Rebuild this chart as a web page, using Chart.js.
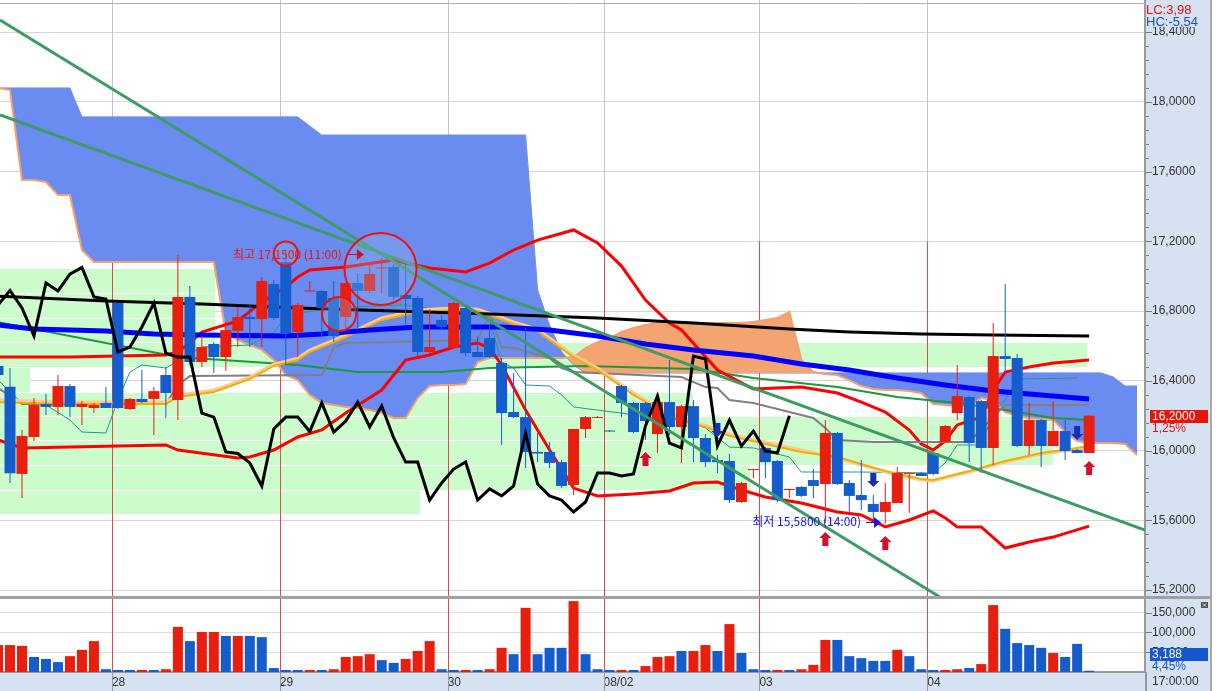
<!DOCTYPE html>
<html>
<head>
<meta charset="utf-8">
<script src="https://cdn.jsdelivr.net/npm/chart.js@4.4.0/dist/chart.umd.min.js"></script>
<style>
  html, body { margin: 0; padding: 0; background: #fff; }
  #wrap { position: relative; width: 1216px; height: 691px; overflow: hidden; }
  #price { position: absolute; left: 0; top: 0; }
  #vol { position: absolute; left: 0; top: 598px; }
</style>
</head>
<body>
<div id="wrap">
  <canvas id="price" width="1216" height="598"></canvas>
  <canvas id="vol" width="1216" height="93"></canvas>
</div>
<script>
// hourly bars, bar -1 is the one cut at the left edge
const firstBar = -1;
const dayStarts = [8.5, 22.5, 36.5, 49.5, 62.5, 76.5];
const dayLabels = ['28', '29', '30', '08/02', '03', '04'];
const endTimeLabel = '17:00:00';

const opens = [
  16.485, 16.366, 15.866, 16.078, 16.267, 16.250, 16.370, 16.250, 16.244, 16.273,
  16.846, 16.238, 16.296, 16.296, 16.433, 16.290, 16.881, 16.508, 16.611, 16.536,
  16.686, 16.766, 16.754, 16.955, 17.081, 16.680, 16.912, 16.915, 16.875, 16.766,
  16.961, 16.915, 17.044, 17.053, 16.892, 16.875, 16.565, 16.749, 16.588, 16.818,
  16.565, 16.645, 16.502, 16.221, 16.192, 15.992, 15.992, 15.934, 15.803, 16.124,
  16.187, 16.115, 16.370, 16.273, 16.273, 16.095, 16.278, 16.135, 16.255, 16.072,
  15.946, 15.940, 15.705, 15.888, 16.015, 15.940, 15.774, 15.791, 15.831, 15.808,
  16.101, 15.814, 15.745, 15.694, 15.648, 15.699, 15.866, 15.871, 15.986, 16.049,
  16.215, 16.307, 16.284, 16.015, 16.542, 16.531, 16.026, 16.175, 16.026, 16.112,
  16.003, 15.986
];
const highs = [
  16.502, 16.473, 16.118, 16.301, 16.324, 16.433, 16.382, 16.284, 16.273, 16.364,
  16.846, 16.301, 16.462, 16.364, 16.479, 17.121, 16.944, 16.657, 16.622, 16.737,
  16.823, 16.840, 16.995, 16.978, 17.150, 16.846, 16.972, 16.921, 16.972, 16.961,
  17.018, 17.075, 17.104, 17.070, 17.081, 16.886, 16.812, 16.777, 16.852, 16.829,
  16.651, 16.720, 16.531, 16.445, 16.703, 16.101, 16.049, 15.946, 16.124, 16.198,
  16.198, 16.118, 16.376, 16.278, 16.278, 16.319, 16.519, 16.261, 16.290, 16.095,
  15.975, 15.980, 15.820, 15.894, 16.020, 15.946, 15.780, 15.797, 15.894, 16.175,
  16.106, 15.831, 15.946, 15.745, 15.814, 15.906, 15.871, 15.877, 15.992, 16.147,
  16.491, 16.313, 16.290, 16.731, 16.955, 16.554, 16.273, 16.181, 16.284, 16.175,
  16.009, 16.204
];
const lows = [
  16.416, 15.814, 15.728, 16.055, 16.204, 16.204, 16.192, 16.147, 16.215, 16.244,
  16.238, 16.232, 16.273, 16.089, 16.187, 16.175, 16.491, 16.479, 16.445, 16.456,
  16.594, 16.594, 16.594, 16.749, 16.491, 16.536, 16.909, 16.651, 16.622, 16.691,
  16.703, 16.903, 16.903, 16.863, 16.720, 16.542, 16.559, 16.691, 16.582, 16.542,
  16.536, 16.531, 16.032, 16.187, 15.900, 15.934, 15.900, 15.785, 15.745, 16.072,
  16.187, 16.106, 16.192, 16.101, 16.061, 15.986, 16.089, 15.929, 15.934, 15.906,
  15.871, 15.699, 15.699, 15.843, 15.843, 15.705, 15.728, 15.734, 15.728, 15.585,
  15.803, 15.642, 15.659, 15.602, 15.580, 15.699, 15.642, 15.854, 15.860, 16.043,
  16.175, 15.934, 15.871, 15.917, 16.445, 16.020, 15.975, 15.906, 16.026, 15.946,
  15.986, 15.986
];
const closes = [
  16.433, 15.870, 16.084, 16.261, 16.250, 16.370, 16.250, 16.267, 16.261, 16.244,
  16.244, 16.296, 16.278, 16.341, 16.330, 16.881, 16.508, 16.594, 16.536, 16.691,
  16.766, 16.754, 16.972, 16.760, 16.674, 16.835, 16.918, 16.818, 16.657, 16.961,
  16.915, 17.012, 17.050, 16.881, 16.869, 16.565, 16.594, 16.709, 16.846, 16.559,
  16.536, 16.536, 16.215, 16.192, 15.992, 15.983, 15.929, 15.797, 16.124, 16.192,
  16.192, 16.109, 16.273, 16.106, 16.169, 16.278, 16.135, 16.255, 16.072, 15.934,
  15.934, 15.716, 15.814, 15.894, 15.934, 15.716, 15.780, 15.740, 15.797, 16.101,
  15.808, 15.740, 15.716, 15.648, 15.705, 15.871, 15.871, 15.854, 15.866, 16.141,
  16.313, 16.043, 16.015, 16.542, 16.525, 16.026, 16.175, 16.026, 16.112, 15.997,
  15.986, 16.200
];
const volumes = [
  68000, 68000, 66000, 38000, 33000, 25000, 40000, 56000, 78000, 7000,
  5000, 5000, 5000, 5000, 7000, 114000, 78000, 101000, 101000, 91000,
  91000, 91000, 88000, 10000, 5000, 5000, 5000, 5000, 7000, 38000,
  40000, 45000, 30000, 23000, 33000, 53000, 78000, 7000, 5000, 5000,
  5000, 7000, 61000, 45000, 162000, 45000, 61000, 61000, 179000, 45000,
  7000, 5000, 5000, 5000, 15000, 38000, 40000, 53000, 53000, 68000,
  53000, 121000, 48000, 7000, 5000, 5000, 5000, 7000, 18000, 81000,
  81000, 40000, 35000, 28000, 28000, 56000, 40000, 7000, 5000, 5000,
  7000, 10000, 20000, 169000, 109000, 73000, 68000, 61000, 48000, 38000,
  71000, 3188
];
// 1 = volume drawn red, 0 = blue
const volUp = [
  1, 1, 1, 0, 0, 0, 1, 1, 1, 0,
  0, 0, 1, 0, 1, 1, 0, 1, 1, 0,
  1, 0, 0, 0, 0, 0, 1, 0, 1, 1,
  1, 1, 0, 0, 1, 1, 1, 0, 0, 1,
  0, 1, 1, 0, 1, 0, 0, 0, 1, 0,
  0, 0, 1, 0, 1, 1, 1, 0, 1, 1,
  0, 1, 0, 0, 0, 1, 0, 1, 1, 1,
  0, 0, 0, 0, 0, 1, 0, 0, 0, 1,
  1, 0, 1, 1, 0, 0, 0, 0, 1, 0,
  0, 0
];
const lastChangePct = 1.25;
const volChangePct = 4.45;

// ichimoku leading spans, bars -1 .. 94
const spanA = [
  18.079, 18.067, 17.551, 17.551, 17.540, 17.465, 17.465, 17.150,
  17.081, 17.081, 17.081, 17.081, 17.081, 17.081, 17.081, 17.081, 17.081, 17.081, 17.081,
  16.674, 16.634, 16.605, 16.577, 16.519, 16.433, 16.404, 16.319, 16.273, 16.261, 16.250,
  16.244, 16.232, 16.215, 16.187, 16.187, 16.301, 16.370, 16.376, 16.376, 16.382, 16.508,
  16.531, 16.531, 16.531, 16.531, 16.531, 16.531, 16.531,
  16.536, 16.588, 16.622, 16.645, 16.680, 16.703, 16.720,
  16.731, 16.731, 16.731, 16.731, 16.731, 16.731, 16.731, 16.731,
  16.737, 16.749, 16.760, 16.795, 16.519, 16.450, 16.439, 16.433, 16.404, 16.370,
  16.353, 16.347, 16.347, 16.341, 16.330, 16.267, 16.261, 16.255, 16.255, 16.301,
  16.290, 16.221, 16.198, 16.187, 16.181, 16.175, 16.106, 16.055, 16.043, 16.043,
  16.043, 16.038, 15.975
];
const spanB = [
  18.079, 18.079, 18.079, 18.079, 18.079, 18.079, 18.079,
  17.913, 17.913, 17.913, 17.913, 17.913, 17.913, 17.913, 17.913, 17.913, 17.913,
  17.913, 17.913, 17.913, 17.913, 17.913, 17.913, 17.913, 17.913, 17.913,
  17.861,
  17.809, 17.809, 17.809, 17.809, 17.809, 17.809, 17.809, 17.809, 17.809,
  17.809, 17.809, 17.809, 17.809, 17.809, 17.809, 17.809, 17.809, 17.809,
  16.921, 16.720, 16.565, 16.491,
  16.445, 16.445, 16.445, 16.445, 16.445, 16.445, 16.445, 16.445, 16.445, 16.445, 16.445,
  16.445, 16.445, 16.445, 16.445, 16.445, 16.445, 16.445, 16.445, 16.445, 16.445, 16.445,
  16.445, 16.445, 16.445, 16.445, 16.445, 16.445, 16.445, 16.445, 16.445, 16.445, 16.445,
  16.445, 16.445, 16.445, 16.445, 16.445, 16.445, 16.445, 16.445, 16.445, 16.445, 16.445,
  16.422, 16.370, 16.370
];

// moving averages / bands, [bar, price]
const maLong = [[-1,16.886],[8,16.858],[16,16.840],[24,16.818],[32,16.800],[40,16.783],[49,16.760],[57,16.731],[65,16.697],[70,16.680],[76,16.668],[82,16.663],[90,16.657]];
const maMid = [[-1,16.720],[2,16.697],[8,16.686],[12,16.668],[16,16.663],[23,16.657],[26,16.668],[30,16.691],[34,16.709],[41,16.709],[45,16.691],[49,16.657],[53,16.611],[57,16.577],[62,16.542],[66,16.496],[70,16.462],[74,16.416],[78,16.376],[82,16.341],[87,16.313],[90,16.296]];
const maGreen = [[-1,16.737],[8,16.617],[14,16.536],[24,16.491],[29,16.450],[36,16.450],[40,16.473],[48,16.485],[57,16.468],[62,16.416],[69,16.364],[74,16.307],[79,16.273],[83,16.232],[87,16.187],[90,16.175]];
const bandUpper = [[-1,16.536],[5,16.536],[13,16.548],[14,16.565],[15,16.617],[16,16.680],[19,16.743],[21,16.852],[23,16.938],[24,16.995],[25,17.035],[28,17.053],[32,17.093],[33,17.075],[35,17.047],[38,17.024],[40,17.075],[42,17.150],[44,17.207],[47,17.265],[49,17.190],[51,17.058],[53,16.863],[55,16.731],[56,16.691],[59,16.462],[62,16.353],[66,16.364],[69,16.330],[71,16.278],[73,16.221],[75,16.118],[76,16.038],[77,16.003],[78,16.055],[79,16.147],[81,16.192],[82,16.347],[83,16.450],[85,16.479],[87,16.502],[90,16.519]];
const bandLower = [[-1,16.061],[1,16.015],[5,16.020],[13,16.032],[14,16.003],[19,15.957],[20,15.963],[22,16.003],[24,16.078],[26,16.118],[28,16.215],[31,16.347],[33,16.519],[35,16.548],[37,16.594],[39,16.617],[40,16.588],[41,16.491],[43,16.232],[45,16.003],[47,15.785],[49,15.740],[52,15.751],[55,15.768],[57,15.814],[59,15.820],[61,15.774],[63,15.734],[66,15.699],[69,15.648],[71,15.631],[73,15.562],[75,15.602],[77,15.654],[78,15.614],[79,15.562],[81,15.562],[83,15.441],[85,15.476],[87,15.504],[90,15.567]];
const tenkan = [[-1,16.404],[1,16.273],[3,16.261],[5,16.175],[6,16.106],[8,16.101],[9,16.290],[10,16.450],[11,16.491],[13,16.473],[16,16.594],[20,16.605],[22,16.674],[23,16.772],[24,16.789],[28,16.823],[33,16.835],[36,16.806],[39,16.795],[40,16.749],[41,16.508],[42,16.473],[43,16.376],[45,16.370],[46,16.319],[47,16.250],[49,16.232],[51,16.215],[53,16.192],[56,16.175],[58,16.130],[60,16.020],[62,16.015],[65,15.963],[66,15.877],[71,15.877],[77,15.871],[78,15.929],[79,16.032],[81,16.032],[82,16.215],[83,16.290],[84,16.410],[89,16.416]];
const kijun = [[-1,16.359],[1,16.267],[13,16.267],[14,16.376],[15,16.427],[26,16.433],[27,16.594],[28,16.617],[39,16.634],[40,16.783],[41,16.594],[42,16.588],[45,16.531],[46,16.473],[47,16.450],[56,16.422],[58,16.364],[59,16.359],[60,16.290],[62,16.273],[66,16.204],[67,16.187],[68,16.130],[69,16.061],[72,16.049],[80,16.049],[82,16.192],[83,16.261],[90,16.261]];
const maGold = [[-1,16.278],[5,16.267],[13,16.267],[14,16.307],[17,16.336],[20,16.410],[22,16.485],[24,16.519],[25,16.565],[28,16.651],[31,16.749],[34,16.795],[37,16.806],[39,16.800],[40,16.777],[42,16.726],[44,16.686],[45,16.634],[47,16.536],[49,16.462],[52,16.319],[55,16.198],[58,16.135],[60,16.084],[63,16.038],[66,15.992],[69,15.963],[73,15.883],[76,15.837],[77,15.831],[80,15.883],[83,15.940],[86,15.986],[89,16.015],[90,16.026]];
const maPeach = [[-1,16.290],[5,16.279],[13,16.279],[14,16.318],[17,16.347],[20,16.421],[22,16.496],[24,16.530],[25,16.576],[28,16.662],[31,16.760],[34,16.806],[37,16.817],[39,16.811],[40,16.788],[42,16.737],[44,16.697],[45,16.645],[47,16.547],[49,16.473],[52,16.330],[55,16.209],[58,16.146],[60,16.095],[63,16.049],[66,16.003],[69,15.957],[73,15.877],[76,15.831],[77,15.825],[80,15.877],[83,15.934],[86,15.980],[89,16.009],[90,16.020]];
const trendA = [[-0.834, 18.469], [94.66, 14.438]];
const trendB = [[-0.834, 17.924], [94.66, 15.544]];

// volume-by-price bands: price edges (top to bottom) and how far right each reaches (bar units)
const bandEdges = [17.047, 16.903, 16.760, 16.622, 16.479, 16.336, 16.198, 16.061, 15.917, 15.774, 15.636];
const bandReach = [17.1, 17.1, 17.1, 89.8, 1.7, 57.0, 87.0, 87.0, 61.7, 34.2];

// signals and notes
const upArrows = [[53, 15.992], [68, 15.533], [73, 15.510], [90, 15.940]];
const downArrows = [[59, 16.078], [72, 15.791], [89, 16.061]];
const circles = [[23, 17.130], [27.45, 16.783], [30.9, 17.041]];
const hiNote = { bar: 18.6, time: '11:00' };
const loNote = { bar: 61.9, time: '14:00' };

const priceTicks = [15.2, 15.6, 16.0, 16.4, 16.8, 17.2, 17.6, 18.0, 18.4];
const volTicks = [50000, 100000, 150000];

const xMin = -0.834, xMax = 94.66;
const pMin = 15.1546, pMax = 18.5835;
const vMax = 186850;

const UP = '#e81e0e', DOWN = '#155dcc';
const AXIS_BG = '#d6e2f1';
const FONT = '"Liberation Sans", Arial, sans-serif';
const KFONT = '"Noto Sans CJK KR", "Liberation Sans", sans-serif';

Chart.defaults.font.family = FONT;
Chart.defaults.font.size = 12;
Chart.defaults.color = '#333';

const isMajor = v => priceTicks.some(t => Math.abs(t - v) < 1e-6);
const comma = s => s.replace('.', ',');
const fmtPrice = v => comma(v.toFixed(4));
const fmtPct = v => comma(v.toFixed(2)) + '%';
const pts = arr => arr.map(([x, y]) => ({ x, y }));
const series = arr => arr.map((y, k) => ({ x: firstBar + k, y }));

const priceTickValues = [];
for (let k = 0; priceTicks[0] + k * 0.08 < pMax; k++) priceTickValues.push(+(priceTicks[0] + k * 0.08).toFixed(2));

const maxHigh = Math.max(...highs);
const minLow = Math.min(...lows);
const lastClose = closes[closes.length - 1];

function line(data, color, width, order, extra) {
  return Object.assign({
    type: 'line', data, borderColor: color, borderWidth: width,
    pointRadius: 0, tension: 0, fill: false, order
  }, extra || {});
}

function drawArrow(ctx, x, tipY, s, color) {
  // s = 1 : pointing up (body below the tip), s = -1 : pointing down
  const h = 6, hw = 6, sw = 3, sl = 8;
  ctx.fillStyle = color;
  ctx.beginPath();
  ctx.moveTo(x, tipY);
  ctx.lineTo(x + hw, tipY + s * h);
  ctx.lineTo(x + sw, tipY + s * h);
  ctx.lineTo(x + sw, tipY + s * (h + sl));
  ctx.lineTo(x - sw, tipY + s * (h + sl));
  ctx.lineTo(x - sw, tipY + s * h);
  ctx.lineTo(x - hw, tipY + s * h);
  ctx.closePath();
  ctx.fill();
}

function pointer(ctx, x0, x1, y, color) {
  ctx.strokeStyle = color;
  ctx.lineWidth = 1;
  ctx.beginPath(); ctx.moveTo(x0, y + 0.5); ctx.lineTo(x1 - 5, y + 0.5); ctx.stroke();
  ctx.fillStyle = color;
  ctx.beginPath(); ctx.moveTo(x1, y + 0.5); ctx.lineTo(x1 - 7, y - 5); ctx.lineTo(x1 - 7, y + 6); ctx.closePath(); ctx.fill();
}

const priceDecor = {
  id: 'priceDecor',
  beforeDraw(chart) {
    const { ctx, chartArea: a, width, height } = chart;
    ctx.save();
    ctx.fillStyle = '#fff';
    ctx.fillRect(0, 0, width, height);
    ctx.fillStyle = AXIS_BG;
    ctx.fillRect(a.right, 0, 1210 - a.right, height);
    ctx.fillStyle = '#a8a8a8';
    ctx.fillRect(1210, 0, 2, height);
    ctx.restore();
  },
  beforeDatasetsDraw(chart) {
    const { ctx, chartArea: a, scales: { x, y } } = chart;
    ctx.save();
    ctx.beginPath(); ctx.rect(a.left, a.top, a.width, a.height); ctx.clip();
    ctx.fillStyle = '#ccfccc';
    for (let k = 0; k < bandReach.length; k++) {
      const top = Math.round(y.getPixelForValue(bandEdges[k]));
      const bot = Math.round(y.getPixelForValue(bandEdges[k + 1]));
      const right = Math.round(x.getPixelForValue(bandReach[k]));
      ctx.fillRect(a.left, top + 1, right - a.left, bot - top - 1);
    }
    const redFrom = y.getPixelForValue(17.2);
    ctx.lineWidth = 1;
    dayStarts.forEach(d => {
      const xx = Math.round(x.getPixelForValue(d)) + 0.5;
      ctx.strokeStyle = '#c4c4c4';
      ctx.beginPath(); ctx.moveTo(xx, a.top); ctx.lineTo(xx, redFrom); ctx.stroke();
      ctx.strokeStyle = '#e04a4a';
      ctx.beginPath(); ctx.moveTo(xx, redFrom); ctx.lineTo(xx, a.bottom); ctx.stroke();
    });
    ctx.strokeStyle = '#b0b0b0';
    ctx.beginPath(); ctx.moveTo(a.left, 3.5); ctx.lineTo(a.right, 3.5); ctx.stroke();
    ctx.restore();
  },
  afterDatasetsDraw(chart) {
    const { ctx, chartArea: a, scales: { x, y } } = chart;
    ctx.save();
    ctx.beginPath(); ctx.rect(a.left, a.top, a.width, a.height); ctx.clip();
    const radii = [12, 17, 36];
    circles.forEach(([b, p], k) => {
      ctx.beginPath();
      ctx.arc(x.getPixelForValue(b), y.getPixelForValue(p), radii[k], 0, Math.PI * 2);
      ctx.fillStyle = 'rgba(150,185,235,0.28)';
      ctx.fill();
      ctx.strokeStyle = '#f01010';
      ctx.lineWidth = 2;
      ctx.stroke();
    });
    upArrows.forEach(([b, p]) => drawArrow(ctx, x.getPixelForValue(b), y.getPixelForValue(p), 1, '#dc0a2c'));
    downArrows.forEach(([b, p]) => drawArrow(ctx, x.getPixelForValue(b), y.getPixelForValue(p), -1, '#1430b4'));

    ctx.font = '12px ' + KFONT;
    ctx.textAlign = 'left';
    ctx.textBaseline = 'middle';
    const hiText = '최고 ' + fmtPrice(maxHigh) + ' (' + hiNote.time + ')';
    const hx = x.getPixelForValue(hiNote.bar), hy = y.getPixelForValue(maxHigh) + 4;
    ctx.fillStyle = '#f01414';
    ctx.fillText(hiText, hx, hy);
    const hw = ctx.measureText(hiText).width;
    pointer(ctx, hx + hw + 5, hx + hw + 22, Math.round(hy), '#d0102c');

    const loText = '최저 ' + fmtPrice(minLow) + ' (' + loNote.time + ')';
    const lx = x.getPixelForValue(loNote.bar), ly = y.getPixelForValue(minLow) - 2;
    ctx.fillStyle = '#1414e6';
    ctx.fillText(loText, lx, ly);
    const lw = ctx.measureText(loText).width;
    pointer(ctx, lx + lw + 5, lx + lw + 20, Math.round(ly), '#1414e6');
    ctx.restore();
  },
  afterDraw(chart) {
    const { ctx, chartArea: a, scales: { y }, height } = chart;
    ctx.save();
    ctx.strokeStyle = '#7c7c7c';
    ctx.lineWidth = 1;
    y.ticks.forEach(t => {
      const yy = Math.round(y.getPixelForValue(t.value)) + 0.5;
      const len = isMajor(t.value) ? 6 : 3;
      ctx.beginPath(); ctx.moveTo(a.right + 1, yy); ctx.lineTo(a.right + 1 + len, yy); ctx.stroke();
    });
    const ly = Math.round(y.getPixelForValue(lastClose));
    ctx.fillStyle = '#e8150b';
    ctx.fillRect(a.right + 5, ly - 6, 58, 13);
    ctx.font = '12px ' + FONT;
    ctx.textAlign = 'left';
    ctx.textBaseline = 'middle';
    ctx.fillStyle = '#fff';
    ctx.fillText(fmtPrice(lastClose), a.right + 7, ly + 1);
    ctx.fillStyle = '#e8150b';
    ctx.fillText(fmtPct(lastChangePct), a.right + 7, ly + 13);

    ctx.fillStyle = AXIS_BG;
    ctx.fillRect(a.right + 1, 1, 1210 - a.right - 1, 26);
    ctx.font = '13px ' + FONT;
    ctx.fillStyle = '#e81010';
    ctx.fillText('LC:' + comma(((lastClose / minLow - 1) * 100).toFixed(2)), a.right + 1, 10);
    ctx.fillStyle = '#1450d0';
    ctx.fillText('HC:' + comma(((lastClose / maxHigh - 1) * 100).toFixed(2)), a.right + 1, 22);

    ctx.fillStyle = '#a0a0a0';
    ctx.fillRect(0, height - 2, 1212, 2);
    ctx.restore();
  }
};

const bars = opens.map((o, k) => firstBar + k);
const candleColor = c => closes[c.dataIndex] >= opens[c.dataIndex] ? UP : DOWN;

const priceDatasets = [
  line(pts(trendA), '#3c9c64', 3, 1),
  line(pts(trendB), '#3c9c64', 3, 1),
  line(closes.slice(25).map((c, k) => ({ x: firstBar + k, y: c })), '#000000', 3, 2),
  { type: 'bar', data: bars.map((b, k) => ({ x: b, y: [opens[k], closes[k]] })), backgroundColor: candleColor,
    barThickness: 11, grouped: false, minBarLength: 1, inflateAmount: 0, order: 5 },
  { type: 'bar', data: bars.map((b, k) => ({ x: b, y: [lows[k], highs[k]] })), backgroundColor: candleColor,
    barThickness: 1, grouped: false, inflateAmount: 0, order: 6 },
  line(pts(maLong), '#000000', 3, 10),
  line(pts(maMid), '#0000ff', 5, 11),
  line(pts(maGold), '#f0b000', 2, 12),
  line(pts(maPeach), '#ffc898', 3, 13),
  line(pts(kijun), '#808080', 2, 14),
  line(pts(tenkan), '#1e9c8c', 1, 15),
  line(pts(bandUpper), '#ff0000', 3, 16),
  line(pts(bandLower), '#ff0000', 3, 16),
  line(pts(maGreen), '#1a9a3a', 2, 17)
];
const spanBIndex = priceDatasets.length + 1;
priceDatasets.push(line(series(spanA), '#f4a06c', 2, 30, {
  fill: { target: spanBIndex, above: 'rgb(244,164,112)', below: 'rgb(106,140,240)' }
}));
priceDatasets.push(line(series(spanB), 'rgb(96,128,236)', 1, 31));

new Chart(document.getElementById('price'), {
  type: 'line',
  data: { datasets: priceDatasets },
  plugins: [priceDecor],
  options: {
    responsive: false, animation: false,
    layout: { padding: 0 },
    plugins: { legend: { display: false }, tooltip: { enabled: false } },
    scales: {
      x: { type: 'linear', min: xMin, max: xMax, offset: false, display: false, grid: { offset: false } },
      y: {
        type: 'linear', position: 'right', min: pMin, max: pMax,
        afterBuildTicks: s => { s.ticks = priceTickValues.map(v => ({ value: v })); },
        afterFit: s => { s.width = 71; s.paddingTop = 0; s.paddingBottom = 0; },
        grid: { color: c => isMajor(c.tick.value) ? '#d6d6d6' : 'rgba(0,0,0,0)', drawTicks: false },
        border: { color: '#9a9a9a', width: 2 },
        ticks: { autoSkip: false, padding: 7, color: '#333', callback: v => isMajor(v) ? fmtPrice(v) : '' }
      }
    }
  }
});

const volDecor = {
  id: 'volDecor',
  beforeDraw(chart) {
    const { ctx, chartArea: a, width, height } = chart;
    ctx.save();
    ctx.fillStyle = '#fff';
    ctx.fillRect(0, 0, width, height);
    ctx.fillStyle = AXIS_BG;
    ctx.fillRect(a.right, 0, 1210 - a.right, height);
    ctx.fillRect(0, a.bottom, 1210, height - a.bottom);
    ctx.fillStyle = '#a8a8a8';
    ctx.fillRect(1210, 0, 2, height);
    ctx.restore();
  },
  beforeDatasetsDraw(chart) {
    const { ctx, chartArea: a, scales: { x } } = chart;
    ctx.save();
    ctx.strokeStyle = '#e04a4a';
    ctx.lineWidth = 1;
    dayStarts.forEach(d => {
      const xx = Math.round(x.getPixelForValue(d)) + 0.5;
      ctx.beginPath(); ctx.moveTo(xx, a.top); ctx.lineTo(xx, a.bottom); ctx.stroke();
    });
    ctx.restore();
  },
  afterDraw(chart) {
    const { ctx, chartArea: a, scales: { x, y }, height } = chart;
    ctx.save();
    ctx.strokeStyle = '#9a9a9a';
    ctx.lineWidth = 1;
    dayStarts.forEach(d => {
      const xx = Math.round(x.getPixelForValue(d)) + 0.5;
      ctx.beginPath(); ctx.moveTo(xx, a.bottom); ctx.lineTo(xx, height); ctx.stroke();
    });
    ctx.fillStyle = '#9a9a9a';
    ctx.fillRect(a.right, a.bottom, 2, height - a.bottom);
    ctx.strokeStyle = '#7c7c7c';
    y.ticks.forEach(t => {
      const yy = Math.round(y.getPixelForValue(t.value)) + 0.5;
      ctx.beginPath(); ctx.moveTo(a.right + 1, yy); ctx.lineTo(a.right + 7, yy); ctx.stroke();
    });
    ctx.font = '12px ' + FONT;
    ctx.textAlign = 'left';
    ctx.textBaseline = 'middle';
    ctx.fillStyle = '#333';
    ctx.fillText(endTimeLabel, a.right + 7, a.bottom + 10);

    const lastVol = volumes[volumes.length - 1];
    const vy = Math.round(y.getPixelForValue(lastVol)) - 17;
    ctx.fillStyle = '#1458cc';
    ctx.fillRect(a.right + 5, vy - 6, 58, 13);
    ctx.fillStyle = '#fff';
    ctx.fillText(lastVol.toLocaleString('en-US'), a.right + 7, vy + 1);
    ctx.fillStyle = '#1458cc';
    ctx.fillText(fmtPct(volChangePct), a.right + 7, vy + 13);

    ctx.fillStyle = '#555';
    ctx.fillRect(a.right + 56, 4, 7, 6);
    ctx.strokeStyle = '#ddd';
    ctx.beginPath(); ctx.moveTo(a.right + 58, 5.5); ctx.lineTo(a.right + 61, 8.5); ctx.moveTo(a.right + 61, 5.5); ctx.lineTo(a.right + 58, 8.5); ctx.stroke();

    ctx.fillStyle = '#a0a0a0';
    ctx.fillRect(0, 0, 1212, 1);
    ctx.restore();
  }
};

new Chart(document.getElementById('vol'), {
  type: 'bar',
  data: {
    datasets: [{
      type: 'bar',
      data: bars.map((b, k) => ({ x: b, y: volumes[k] })),
      backgroundColor: c => volUp[c.dataIndex] ? UP : DOWN,
      barThickness: 10, inflateAmount: 0
    }]
  },
  plugins: [volDecor],
  options: {
    responsive: false, animation: false,
    layout: { padding: 0 },
    plugins: { legend: { display: false }, tooltip: { enabled: false } },
    scales: {
      x: {
        type: 'linear', min: xMin, max: xMax, offset: false, position: 'bottom',
        afterBuildTicks: s => { s.ticks = dayStarts.map(v => ({ value: v })); },
        afterFit: s => { s.height = 19; s.paddingLeft = 0; s.paddingRight = 0; },
        grid: { display: false, drawTicks: false },
        border: { color: '#9a9a9a', width: 2 },
        ticks: { autoSkip: false, maxRotation: 0, minRotation: 0, align: 'start', padding: 3, color: '#333',
          callback: (v, k) => dayLabels[k] }
      },
      y: {
        type: 'linear', position: 'right', min: 0, max: vMax,
        afterBuildTicks: s => { s.ticks = volTicks.map(v => ({ value: v })); },
        afterFit: s => { s.width = 71; s.paddingTop = 0; s.paddingBottom = 0; },
        grid: { color: '#dcdcdc', drawTicks: false },
        border: { color: '#9a9a9a', width: 2 },
        ticks: { autoSkip: false, padding: 7, color: '#333', callback: v => v.toLocaleString('en-US') }
      }
    }
  }
});
</script>
</body>
</html>
